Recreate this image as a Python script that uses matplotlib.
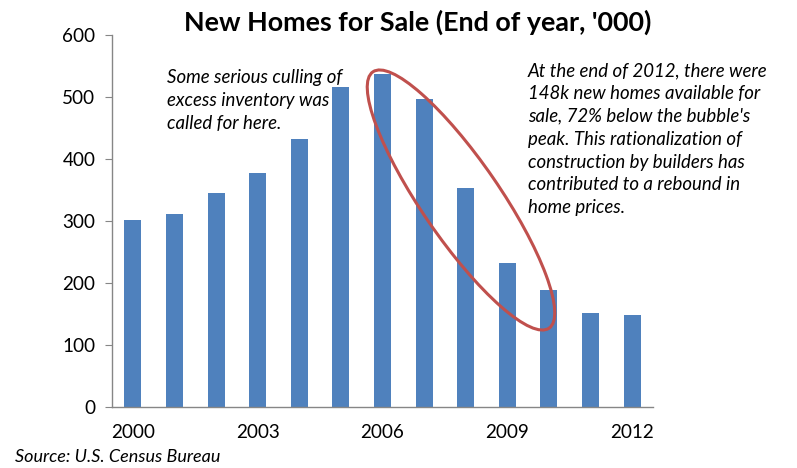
import matplotlib
matplotlib.use("Agg")
import matplotlib.pyplot as plt
from matplotlib.patches import Ellipse

years = [2000, 2001, 2002, 2003, 2004, 2005, 2006, 2007, 2008, 2009, 2010, 2011, 2012]
homes_for_sale = [301, 311, 345, 377, 432, 516, 537, 496, 353, 232, 188, 151, 148]
tick_years = [2000, 2003, 2006, 2009, 2012]
yticks = [0, 100, 200, 300, 400, 500, 600]

title = "New Homes for Sale (End of year, '000)"
note_left = "Some serious culling of\nexcess inventory was\ncalled for here."
note_right = ("At the end of 2012, there were\n148k new homes available for\n"
              "sale, 72% below the bubble's\npeak. This rationalization of\n"
              "construction by builders has\ncontributed to a rebound in\nhome prices.")
source = "Source: U.S. Census Bureau"

plt.rcParams['font.family'] = ['Lato', 'DejaVu Sans']

fig = plt.figure(figsize=(7.97, 4.68), dpi=100)
ax = fig.add_axes([112/797, 61/468, (653-112)/797, (406.7-34.3)/468])

x = list(range(len(years)))
ax.bar(x, homes_for_sale, width=0.41, color='#4F81BD', zorder=2)
ax.set_xlim(-0.5, len(years) - 0.5)
ax.set_ylim(0, 600)
ax.set_yticks(yticks)
ax.set_yticklabels([str(v) for v in yticks], fontsize=13.6)
ax.set_xticks([years.index(y) for y in tick_years])
ax.set_xticklabels([str(y) for y in tick_years], fontsize=13.6)
ax.tick_params(axis='x', length=0, pad=12)
ax.tick_params(axis='y', length=5, color='#868686', pad=7, direction='out')
for s in ['top', 'right']:
    ax.spines[s].set_visible(False)
for s in ['left', 'bottom']:
    ax.spines[s].set_color('#868686')
    ax.spines[s].set_linewidth(1.0)

fig.text(418/797, 1 - 22/468, title, ha='center', va='center', fontsize=19.4, fontweight='bold')
fig.text(167/797, 1 - 69/468, note_left, ha='left', va='top', fontsize=13.4,
         style='italic', linespacing=1.42)
fig.text(528/797, 1 - 62/468, note_right, ha='left', va='top', fontsize=13.4,
         style='italic', linespacing=1.42)
fig.text(15/797, 1 - 457/468, source, ha='left', va='center', fontsize=13, style='italic')

ell = Ellipse((4.61, 4.68 - 2.00), width=3.11, height=0.78, angle=-55.5,
              transform=fig.dpi_scale_trans, fill=False, edgecolor='#C0504D',
              linewidth=2.2, zorder=5)
fig.patches.append(ell)

fig.savefig("out.png", dpi=100)
